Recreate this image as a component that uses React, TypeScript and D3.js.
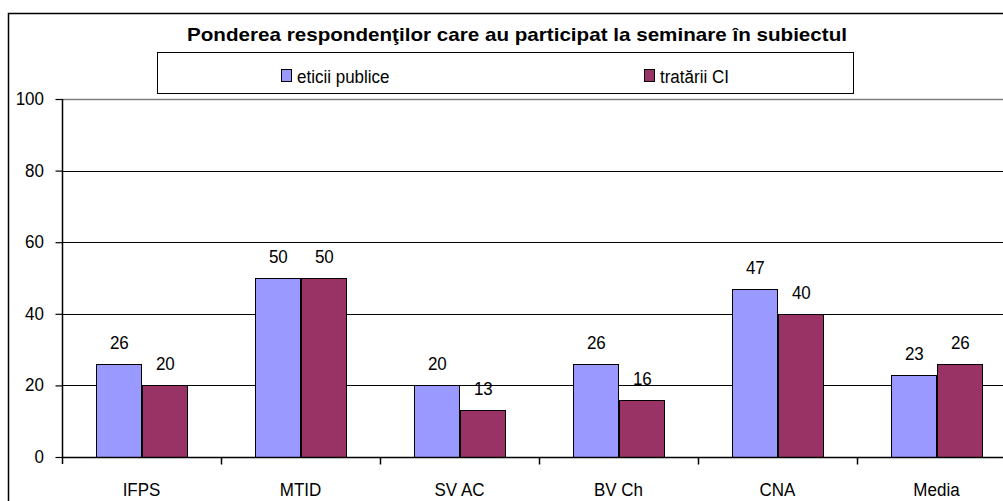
import { useEffect, useRef } from 'react';
import * as d3 from 'd3';

const categories = ['IFPS', 'MTID', 'SV AC', 'BV Ch', 'CNA', 'Media'];
const seriesNames = ['eticii publice', 'tratării CI'];
const eticiiPublice = [26, 50, 20, 26, 47, 23];
const tratariiCI = [20, 50, 13, 16, 40, 26];
const yTicks = [0, 20, 40, 60, 80, 100];
const colors = ['#9999FF', '#993366'];
const title = 'Ponderea respondenţilor care au participat la seminare în subiectul';

export default function App() {
    const svgRef = useRef<SVGSVGElement>(null);

    useEffect(() => {
        const svg = d3.select(svgRef.current);
        svg.selectAll('*').remove();

        const width = 1003;
        const height = 501;
        const font = 'Arial, "Liberation Sans", sans-serif';
        const plot = { left: 62, top: 99, right: 1016, bottom: 457 };

        // text in the original is a bit taller than wide, so stretch it vertically
        const label = (g: any, x: number, y: number, txt: string | number, anchor = 'middle', size = 17) =>
            g.append('text')
                .attr('transform', `translate(${x},${y}) scale(1,1.12)`)
                .attr('text-anchor', anchor)
                .style('font-family', font)
                .style('font-size', `${size}px`)
                .attr('fill', '#000')
                .text(txt);

        svg.append('rect').attr('width', width).attr('height', height).attr('fill', '#fff');

        // outer chart frame (runs off the right/bottom edges)
        svg.append('path')
            .attr('d', `M8.5,${height + 5}V13.5H${width + 5}`)
            .attr('fill', 'none')
            .attr('stroke', '#000')
            .attr('stroke-width', 1.5);

        svg.append('text')
            .attr('x', 187)
            .attr('y', 41)
            .attr('textLength', 660)
            .attr('lengthAdjust', 'spacingAndGlyphs')
            .style('font-family', font)
            .style('font-size', '19px')
            .style('font-weight', 'bold')
            .text(title);

        // legend
        const lg = svg.append('g');
        lg.append('rect')
            .attr('x', 157.5).attr('y', 52.5).attr('width', 696).attr('height', 41)
            .attr('fill', '#fff').attr('stroke', '#000');
        const legendX = [281, 644];
        seriesNames.forEach((name, i) => {
            lg.append('rect')
                .attr('x', legendX[i] + 0.5).attr('y', 69.5).attr('width', 10).attr('height', 12)
                .attr('fill', colors[i]).attr('stroke', '#000');
            label(lg, legendX[i] + 16, 83, name, 'start');
        });

        const x0 = d3.scaleBand().domain(categories).range([plot.left, plot.right]).paddingInner(0).paddingOuter(0);
        const x1 = d3.scaleBand().domain(seriesNames).range([0, x0.bandwidth()]).paddingOuter(0.74).paddingInner(0);
        const y = d3.scaleLinear().domain([0, 100]).range([plot.bottom, plot.top]);

        // gridlines
        svg.append('g')
            .selectAll('line')
            .data(yTicks.filter(t => t > 0))
            .join('line')
            .attr('x1', plot.left).attr('x2', plot.right)
            .attr('y1', d => Math.round(y(d)) + 0.5).attr('y2', d => Math.round(y(d)) + 0.5)
            .attr('stroke', d => (d === 100 ? '#808080' : '#000'))
            .attr('stroke-width', d => (d === 100 ? 1.5 : 1));

        // bars
        const series = [eticiiPublice, tratariiCI];
        categories.forEach((c, ci) => {
            series.forEach((vals, si) => {
                const bx = Math.round(x0(c)! + x1(seriesNames[si])!) + 0.5;
                const by = Math.round(y(vals[ci])) + 0.5;
                svg.append('rect')
                    .attr('x', bx).attr('y', by)
                    .attr('width', Math.floor(x1.bandwidth()))
                    .attr('height', plot.bottom - by + 0.5)
                    .attr('fill', colors[si]).attr('stroke', '#000');
                label(svg, bx + x1.bandwidth() / 2, by - 16, vals[ci]);
            });
        });

        // y axis
        const ya = svg.append('g').attr('transform', `translate(${plot.left + 0.5},0)`)
            .call(d3.axisLeft(y).tickValues(yTicks).tickSize(7).tickFormat(() => ''));
        ya.select('.domain').attr('d', `M0,${plot.top}V${plot.bottom + 7}`).attr('stroke-width', 1.5);
        ya.selectAll('.tick line').attr('stroke-width', 1.2);
        yTicks.forEach(t => label(svg, 44, Math.round(y(t)) + 5.5, t, 'end'));

        // x axis
        const xa = svg.append('g').attr('transform', `translate(0,${plot.bottom + 0.5})`);
        xa.append('line').attr('x1', plot.left).attr('x2', plot.right).attr('stroke', '#000').attr('stroke-width', 1.5);
        xa.selectAll('line.t')
            .data(categories.slice(1))
            .join('line')
            .attr('class', 't')
            .attr('x1', d => x0(d)! + 0.5).attr('x2', d => x0(d)! + 0.5)
            .attr('y1', 0).attr('y2', 7)
            .attr('stroke', '#000').attr('stroke-width', 1.5);
        categories.forEach(c => label(svg, x0(c)! + x0.bandwidth() / 2, 496, c));
    }, []);

    return (
        <svg
            ref={svgRef}
            width={1003}
            height={501}
            style={{ position: 'absolute', left: 0, top: 0 }}
        />
    );
}
